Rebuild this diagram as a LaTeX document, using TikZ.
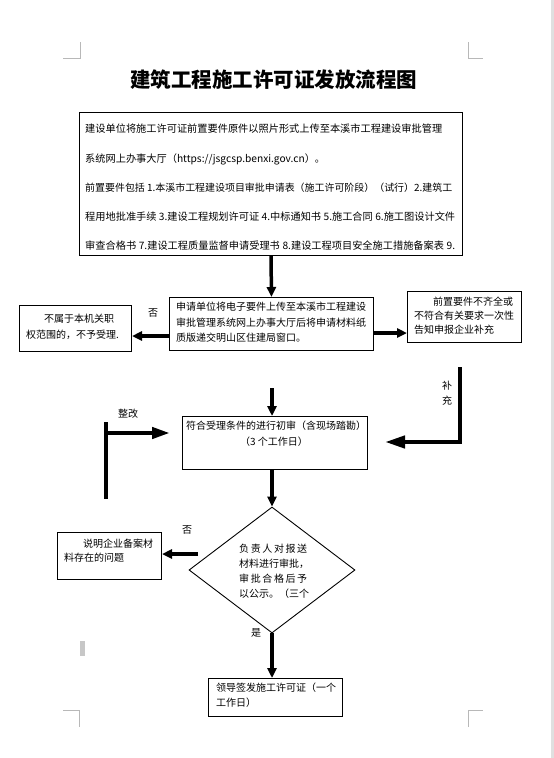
\documentclass[tikz,border=0pt]{standalone}
\usepackage{fontspec}
\setmainfont{Noto Sans CJK SC}
\usetikzlibrary{arrows.meta,calc,shapes.geometric}
\begin{document}
\begin{tikzpicture}[x=1pt,y=-1pt,
  box/.style={draw, line width=1pt, inner sep=0pt, anchor=north west},
  txt/.style={inner sep=0pt, anchor=base west, font=\fontsize{10}{12}\selectfont},
  ctxt/.style={inner sep=0pt, anchor=base, font=\fontsize{10}{12}\selectfont},
  fat/.style={line width=3.5pt, -{Triangle[length=10pt,width=9pt]}},
  big/.style={line width=4.2pt, line join=miter, -{Triangle[length=20pt,width=12pt]}},
  crop/.style={draw=black!28, line width=0.7pt}
]
\useasboundingbox (0,0) rectangle (554,758);
% page edge strip and marks
\fill[black!12] (551,0) rectangle (554,758);
\fill[black!22] (80,641) rectangle (85,656);
\draw[crop] (63,58) -- (80,58) -- (80,42);
\draw[crop] (468,42) -- (468,58) -- (483,58);
\draw[crop] (63,710) -- (79,710) -- (79,727);
\draw[crop] (468,727) -- (468,710) -- (483,710);

% title
\node[inner sep=0pt, font=\fontsize{20.5}{24}\bfseries\selectfont] (title) at (273.5,80) {建筑工程施工许可证发放流程图};

% box 1
\node[box, minimum width=383pt, minimum height=143pt] (b1) at (79,112) {};
\begin{scope}[every node/.style={txt, font=\fontsize{10.2}{12}\selectfont}]
\node (b1l1) at (85,132.8) {\makebox[370pt][s]{建设单位将施工许可证前置要件原件以照片形式上传至本溪市工程建设审批管理}};
\node (b1l2) at (85,162.0) {系统网上办事大厅（https://jsgcsp.benxi.gov.cn）。};
\node[font=\fontsize{9.95}{12}\selectfont] (b1l3) at (85,191.2) {前置要件包括 1.本溪市工程建设项目审批申请表（施工许可阶段）（试行）2.建筑工};
\node (b1l4) at (85,220.4) {\makebox[370pt][s]{程用地批准手续 3.建设工程规划许可证 4.中标通知书 5.施工合同 6.施工图设计文件}};
\node (b1l5) at (85,249.6) {\makebox[370pt][s]{审查合格书 7.建设工程质量监督申请受理书 8.建设工程项目安全施工措施备案表 9.}};
\end{scope}

% box 2
\node[box, minimum width=204pt, minimum height=53pt] (b2) at (169,297) {};
\node[txt] (b2l1) at (176,310.7) {申请单位将电子要件上传至本溪市工程建设};
\node[txt] (b2l2) at (176,326.2) {审批管理系统网上办事大厅后将申请材料纸};
\node[txt] (b2l3) at (176,341.7) {质版递交明山区住建局窗口。};

% left box
\node[box, minimum width=112pt, minimum height=46pt] (lb) at (19,305) {};
\node[txt] (lbl1) at (44,322.7) {不属于本机关职};
\node[txt] (lbl2) at (26,338.7) {权范围的，不予受理.};
\node[ctxt] (no1) at (153,316.7) {否};

% right box
\node[box, minimum width=114pt, minimum height=51pt] (rb) at (407,291) {};
\node[txt] (rbl1) at (433,305.7) {前置要件不齐全或};
\node[txt] (rbl2) at (414,319.7) {不符合有关要求一次性};
\node[txt] (rbl3) at (414,333.7) {告知申报企业补充};

% arrows around box 2
\coordinate (yl) at (0,336);
\coordinate (yr) at (0,333);
\draw[fat] (b1.south) -- (b2.north);
\draw[fat] (b2.west |- yl) -- (lb.east |- yl);
\draw[fat] (b2.east |- yr) -- (rb.west |- yr);

% supplement path
\coordinate (bcA) at (460,367);
\coordinate (bcB) at (460,442);
\coordinate (bcC) at (385,442);
\draw[big] (bcA) -- (bcB) -- (bcC);
\node[ctxt] (bu) at (447,389.7) {补};
\node[ctxt] (chong) at (447,404.7) {充};

% box 3
\node[box, minimum width=185pt, minimum height=53pt] (b3) at (182,416) {};
\node[ctxt] (b3l1) at (276,429.7) {符合受理条件的进行初审（含现场踏勘）};
\node[ctxt] (b3l2) at (274,445.7) {（3 个工作日）};
\coordinate (inTop) at (272,388);
\draw[fat] (inTop) -- (b3.north -| inTop);

% rectification
\coordinate (zgA) at (106,422);
\coordinate (zgB) at (106,499);
\coordinate (zgC) at (106,433);
\coordinate (zgD) at (170,433);
\draw[line width=4.2pt] (zgA) -- (zgB);
\draw[line width=4.2pt, -{Triangle[length=18pt,width=11pt]}] (zgC) -- (zgD);
\node[ctxt] (zg) at (128,417.7) {整改};

% diamond
\node[draw, line width=0.9pt, shape=diamond, inner sep=0pt, minimum width=166pt, minimum height=126pt] (dia) at (272,570) {};
\draw[fat] (b3.south -| dia.north) -- (dia.north);
\node[txt] (dl1) at (239,552.7) {\makebox[68pt][s]{负 责 人 对 报 送}};
\node[txt] (dl2) at (239,567.7) {材料进行审批，};
\node[txt] (dl3) at (239,582.7) {\makebox[68pt][s]{审 批 合 格 后 予}};
\node[txt] (dl4) at (239,597.7) {以公示。（三个};

% explanation box
\node[box, minimum width=104pt, minimum height=47pt] (eb) at (57,532) {};
\node[txt] (ebl1) at (83,547.7) {说明企业备案材};
\node[txt] (ebl2) at (64,561.7) {料存在的问题};
\node[ctxt] (no2) at (187,533.7) {否};
\coordinate (dA) at (198,554);
\draw[fat] (dA) -- (eb.east |- dA);

% final box
\node[box, minimum width=134pt, minimum height=38pt] (b4) at (208,678) {};
\node[txt] (b4l1) at (216,691.7) {领导签发施工许可证（一个};
\node[txt] (b4l2) at (216,706.7) {工作日）};
\node[ctxt] (yes) at (256,636.7) {是};
\draw[fat] (dia.south) -- (b4.north -| dia.south);
\end{tikzpicture}
\end{document}
